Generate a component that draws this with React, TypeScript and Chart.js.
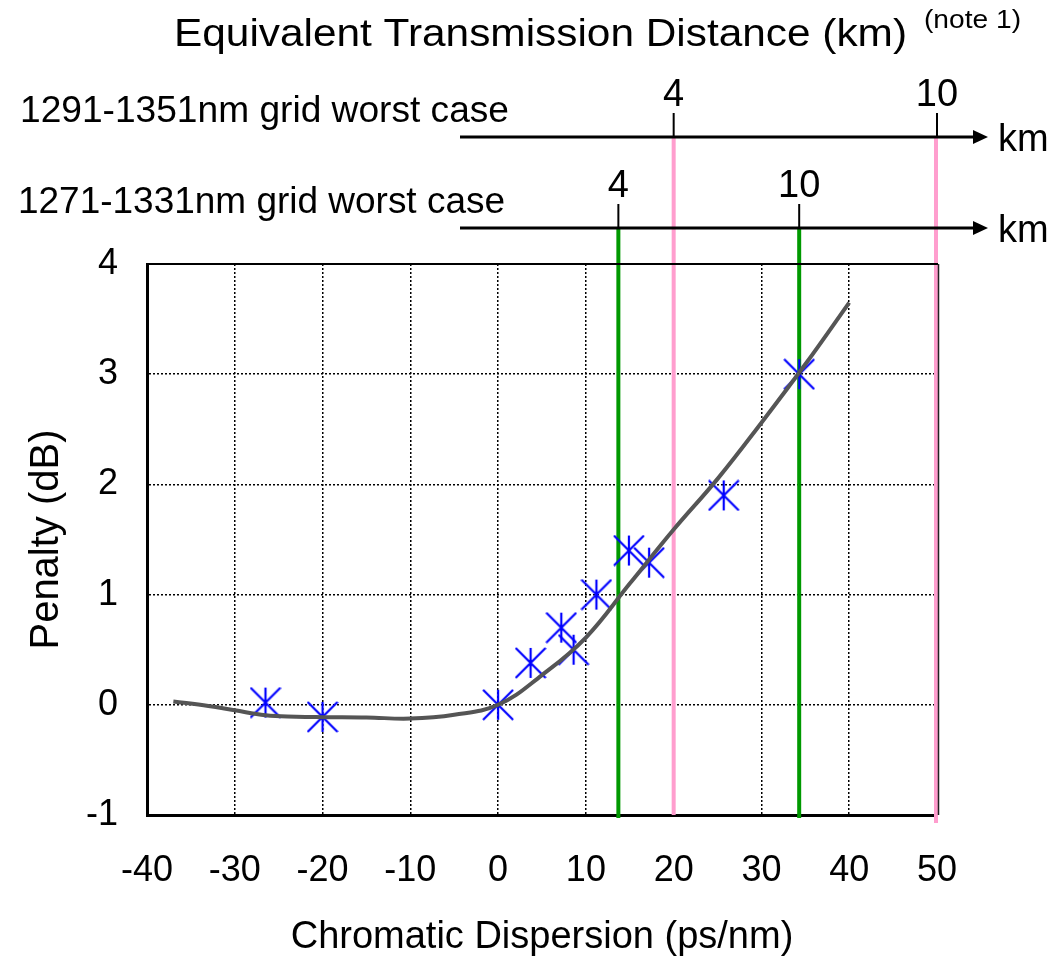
import React, { useEffect, useRef } from 'react';
import { Chart, registerables } from 'chart.js';

Chart.register(...registerables);

// ---- data ----
const curveX = [-37, -33, -30, -26.5, -23, -20, -15, -10, -5, 0, 5, 10, 15, 20, 25, 30, 35, 40];
const curveY = [0.03, -0.01, -0.05, -0.095, -0.108, -0.112, -0.115, -0.125, -0.09, 0.0, 0.27, 0.61, 1.1, 1.59, 2.05, 2.56, 3.09, 3.65];
const measX = [-26.5, -20, 0, 3.7, 7.2, 8.6, 11.2, 14.9, 17.2, 25.7, 34.3];
const measY = [0.02, -0.11, 0.0, 0.38, 0.7, 0.5, 1.0, 1.4, 1.29, 1.9, 3.0];
const xTickValues = [-40, -30, -20, -10, 0, 10, 20, 30, 40, 50];
const yTickValues = [-1, 0, 1, 2, 3, 4];
const kmLabels = ['4', '10'];
const cd1291 = [20, 50];
const cd1271 = [13.7, 34.3];
const rowLabels = ['1291-1351nm grid worst case', '1271-1331nm grid worst case'];
const topTitle = 'Equivalent Transmission Distance (km)';
const noteText = '(note 1)';
const xTitle = 'Chromatic Dispersion (ps/nm)';
const yTitle = 'Penalty (dB)';

const FONT = '"Liberation Sans", Arial, Helvetica, sans-serif';

function makeAsterisk(): HTMLCanvasElement {
  const c = document.createElement('canvas');
  c.width = 32;
  c.height = 32;
  const g = c.getContext('2d')!;
  g.strokeStyle = '#0000FF';
  g.lineWidth = 2.2;
  g.beginPath();
  g.moveTo(16, 1);
  g.lineTo(16, 31);
  g.moveTo(1, 1);
  g.lineTo(31, 31);
  g.moveTo(31, 1);
  g.lineTo(1, 31);
  g.stroke();
  return c;
}

function stretchedText(ctx: CanvasRenderingContext2D, text: string, x: number, y: number, size: number, targetW: number) {
  ctx.font = `${size}px ${FONT}`;
  const w = ctx.measureText(text).width;
  const s = targetW / w;
  ctx.save();
  ctx.translate(x, y);
  ctx.scale(s, 1);
  ctx.textAlign = 'left';
  ctx.textBaseline = 'middle';
  ctx.fillText(text, 0, 0);
  ctx.restore();
}

const overlayPlugin = {
  id: 'overlay',
  beforeDatasetsDraw(chart: any) {
    const { ctx, chartArea } = chart;
    const x = chart.scales.x;
    ctx.save();
    ctx.lineCap = 'butt';
    ctx.strokeStyle = '#FF9ECE';
    ctx.lineWidth = 4;
    cd1291.forEach((v, i) => {
      const last = i === cd1291.length - 1;
      const px = x.getPixelForValue(v) - (last ? 1 : 0);
      ctx.beginPath();
      ctx.moveTo(px, 137);
      ctx.lineTo(px, chartArea.bottom + (last ? 8 : 0));
      ctx.stroke();
    });
    ctx.strokeStyle = '#009900';
    cd1271.forEach((v) => {
      const px = x.getPixelForValue(v);
      ctx.beginPath();
      ctx.moveTo(px, 228);
      ctx.lineTo(px, chartArea.bottom + 3);
      ctx.stroke();
    });
    ctx.restore();
  },
  afterDraw(chart: any) {
    const { ctx, chartArea } = chart;
    const x = chart.scales.x;
    ctx.save();
    ctx.strokeStyle = '#000';
    ctx.lineWidth = 2;
    ctx.beginPath();
    ctx.moveTo(chartArea.left, chartArea.top);
    ctx.lineTo(chartArea.right + 1, chartArea.top);
    ctx.stroke();
    ctx.lineWidth = 1.5;
    ctx.strokeStyle = '#222';
    ctx.beginPath();
    ctx.moveTo(chartArea.right + 1.5, chartArea.top);
    ctx.lineTo(chartArea.right + 1.5, chartArea.bottom);
    ctx.stroke();

    const rows = [
      { y: 137, vals: cd1291, label: rowLabels[0] },
      { y: 228, vals: cd1271, label: rowLabels[1] },
    ];
    ctx.fillStyle = '#000';
    rows.forEach((r, ri) => {
      ctx.strokeStyle = '#000';
      ctx.lineWidth = 3;
      ctx.beginPath();
      ctx.moveTo(460, r.y);
      ctx.lineTo(976, r.y);
      ctx.stroke();
      ctx.beginPath();
      ctx.moveTo(973, r.y - 7);
      ctx.lineTo(988, r.y);
      ctx.lineTo(973, r.y + 7);
      ctx.closePath();
      ctx.fill();
      ctx.lineWidth = 2;
      r.vals.forEach((v, j) => {
        const px = x.getPixelForValue(v);
        ctx.beginPath();
        ctx.moveTo(px, r.y);
        ctx.lineTo(px, r.y - 24);
        ctx.stroke();
        ctx.font = `38px ${FONT}`;
        ctx.textAlign = 'center';
        ctx.textBaseline = 'middle';
        ctx.fillText(kmLabels[j], px, r.y - 41);
      });
      ctx.font = `38px ${FONT}`;
      ctx.textAlign = 'left';
      ctx.textBaseline = 'middle';
      ctx.fillText('km', 998, r.y + 4);
      stretchedText(ctx, r.label, ri === 0 ? 20 : 18, r.y - 25, 36, ri === 0 ? 489 : 487);
    });

    stretchedText(ctx, topTitle, 174, 36, 38, 733);
    stretchedText(ctx, noteText, 924, 21, 25, 97);
    ctx.restore();
  },
};

export default function App() {
  const ref = useRef<HTMLCanvasElement | null>(null);
  useEffect(() => {
    if (!ref.current) return;
    const star = makeAsterisk();
    const chart = new Chart(ref.current, {
      type: 'scatter',
      data: {
        datasets: [
          {
            label: 'fit',
            data: curveX.map((v, i) => ({ x: v, y: curveY[i] })),
            showLine: true,
            borderColor: '#555555',
            borderWidth: 4,
            pointRadius: 0,
            tension: 0.4,
            fill: false,
          },
          {
            label: 'measured',
            data: measX.map((v, i) => ({ x: v, y: measY[i] })),
            showLine: false,
            pointStyle: star as any,
            pointRadius: 15,
            borderColor: '#0000FF',
            backgroundColor: '#0000FF',
          },
        ],
      },
      options: {
        responsive: false,
        animation: false,
        events: [],
        layout: { padding: { left: 0, right: 120, top: 264, bottom: 0 } },
        plugins: {
          legend: { display: false },
          tooltip: { enabled: false },
          title: { display: false },
        },
        scales: {
          x: {
            type: 'linear',
            min: -40,
            max: 50,
            afterFit: (s: any) => {
              s.height = 143;
            },
            afterBuildTicks: (s: any) => {
              s.ticks = xTickValues.map((v) => ({ value: v }));
            },
            ticks: {
              color: '#000',
              padding: 34,
              maxRotation: 0,
              autoSkip: false,
              font: { size: 36, family: FONT },
            },
            grid: { color: '#000', lineWidth: 1.5, drawTicks: false },
            border: { display: true, color: '#000', width: 3, dash: [2, 2] },
            title: {
              display: true,
              text: xTitle,
              color: '#000',
              font: { size: 38, family: FONT, lineHeight: 1.1 },
              padding: { top: 0, bottom: 0 },
            },
          },
          y: {
            type: 'linear',
            min: -1,
            max: 4,
            afterFit: (s: any) => {
              s.width = 147;
            },
            afterBuildTicks: (s: any) => {
              s.ticks = yTickValues.map((v) => ({ value: v }));
            },
            ticks: {
              color: '#000',
              padding: 29,
              font: { size: 36, family: FONT },
            },
            grid: { color: '#000', lineWidth: 1.5, drawTicks: false },
            border: { display: true, color: '#000', width: 3, dash: [2, 2] },
            title: {
              display: true,
              text: yTitle,
              color: '#000',
              font: { size: 40, family: FONT, lineHeight: 1.1 },
              padding: { top: 25, bottom: 0 },
            },
          },
        },
      },
      plugins: [overlayPlugin],
    });
    return () => chart.destroy();
  }, []);
  return (
    <div style={{ position: 'absolute', left: 0, top: 0, width: 1057, height: 958, background: '#fff' }}>
      <canvas ref={ref} width={1057} height={958} style={{ display: 'block' }} />
    </div>
  );
}
